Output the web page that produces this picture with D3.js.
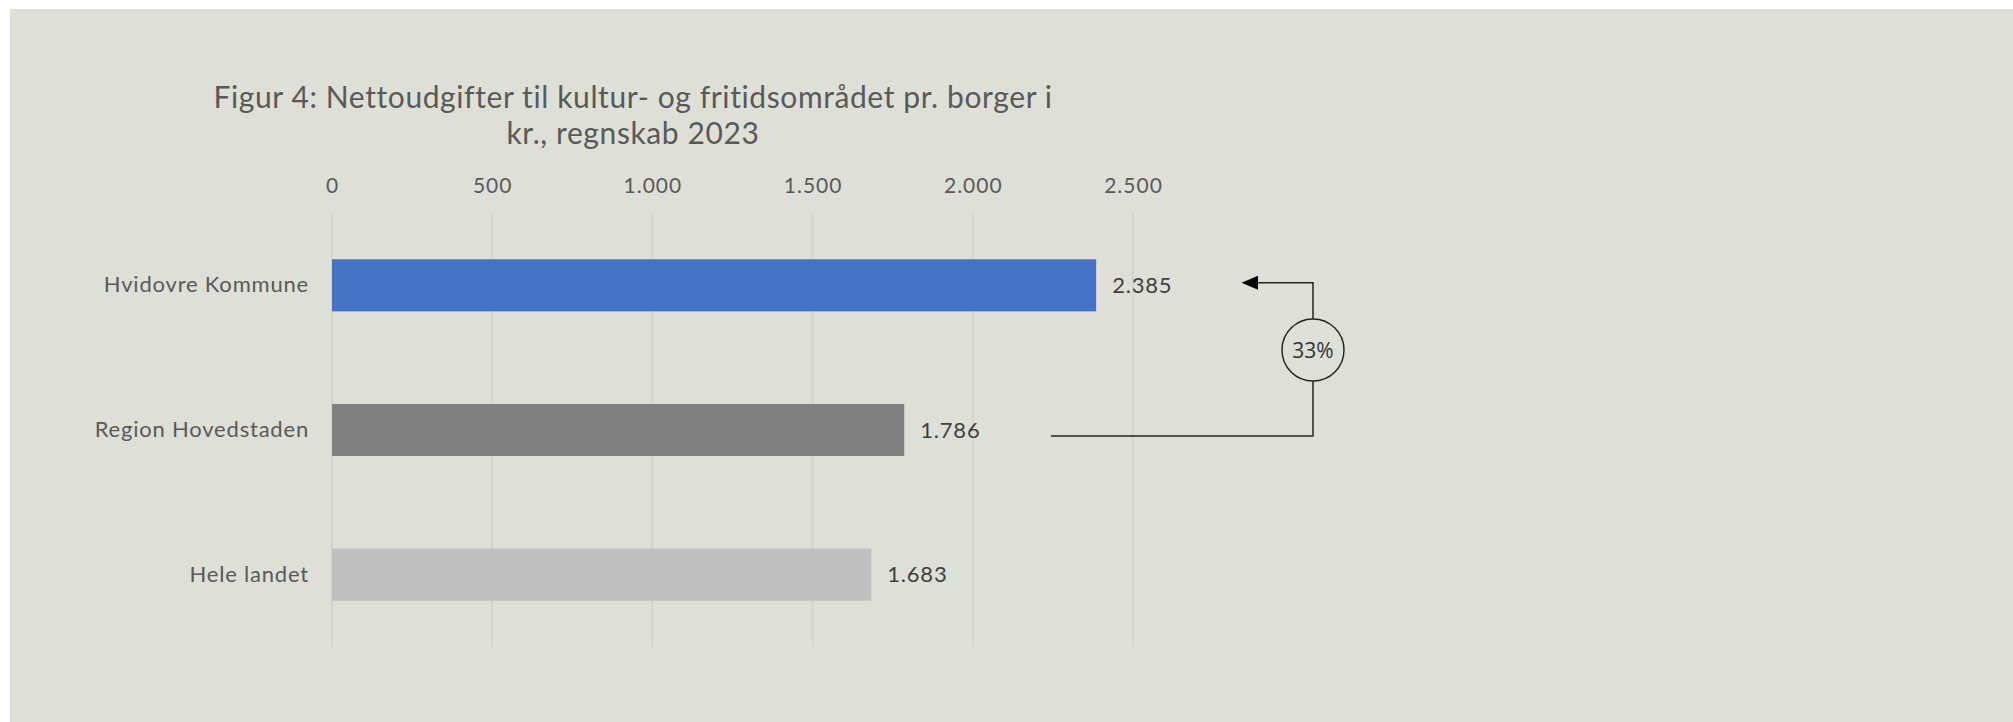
<!DOCTYPE html>
<html>
<head>
<meta charset="utf-8">
<script src="https://cdn.jsdelivr.net/npm/d3@7"></script>
<style>
  html, body { margin: 0; padding: 0; background: #ffffff; }
  svg { display: block; }
</style>
</head>
<body>
<svg id="chart" width="2013" height="722"></svg>
<script>
const categories = ["Hvidovre Kommune", "Region Hovedstaden", "Hele landet"];
const values = [2385, 1786, 1683];
const barColors = ["#4472C4", "#808080", "#BFBFBF"];
const tickValues = [0, 500, 1000, 1500, 2000, 2500];
const titleLines = ["Figur 4: Nettoudgifter til kultur- og fritidsområdet pr. borger i", "kr., regnskab 2023"];
const annotationLabel = "33%";

const fmt = v => d3.format(",")(v).replace(/,/g, ".");

const svg = d3.select("#chart");
const W = 2013, H = 722;

svg.append("rect")
  .attr("x", 10).attr("y", 9).attr("width", W - 10).attr("height", H - 9)
  .attr("fill", "#DEE0D7");

const plot = { left: 332, right: 1133, top: 213, bottom: 647 };

const x = d3.scaleLinear().domain([0, 2500]).range([plot.left, plot.right]);
const y = d3.scaleBand().domain(categories).range([plot.top, plot.bottom]).paddingInner(0.64).paddingOuter(0.32);

// gridlines
svg.append("g").selectAll("line").data(tickValues).join("line")
  .attr("x1", d => x(d)).attr("x2", d => x(d))
  .attr("y1", plot.top).attr("y2", plot.bottom)
  .attr("stroke", "#CFD1CB").attr("stroke-width", 1.5);

// top axis labels
const axis = d3.axisTop(x).tickValues(tickValues).tickFormat(fmt).tickSize(0).tickPadding(0);
const ag = svg.append("g").attr("transform", `translate(0,193)`).call(axis);
ag.select(".domain").remove();
ag.selectAll("text")
  .attr("font-family", "Lato, 'Open Sans', sans-serif")
  .attr("font-size", 21).attr("letter-spacing", 1).attr("fill", "#595959");

// category axis
const yAxis = d3.axisLeft(y).tickSize(0).tickPadding(23);
const yg = svg.append("g").attr("transform", `translate(${plot.left},0)`).call(yAxis);
yg.select(".domain").remove();
yg.selectAll("text")
  .attr("font-family", "Lato, 'Open Sans', sans-serif")
  .attr("font-size", 22).attr("letter-spacing", 0.8).attr("fill", "#595959");

// bars
svg.append("g").selectAll("rect").data(values).join("rect")
  .attr("x", x(0))
  .attr("y", (d, i) => y(categories[i]))
  .attr("width", d => x(d) - x(0))
  .attr("height", y.bandwidth())
  .attr("fill", (d, i) => barColors[i]);

// value labels
svg.append("g").selectAll("text").data(values).join("text")
  .attr("x", d => x(d) + 16)
  .attr("y", (d, i) => y(categories[i]) + y.bandwidth() / 2)
  .attr("dy", "0.35em")
  .attr("font-family", "Lato, 'Open Sans', sans-serif")
  .attr("font-size", 22).attr("letter-spacing", 0.8).attr("fill", "#404040")
  .text(d => fmt(d));

// title
const title = svg.append("text")
  .attr("font-family", "Lato, 'Open Sans', sans-serif")
  .attr("font-size", 30).attr("letter-spacing", 0.6).attr("fill", "#595959")
  .attr("text-anchor", "middle");
titleLines.forEach((t, i) => {
  title.append("tspan").attr("x", 633).attr("y", 108 + i * 36).text(t);
});

// annotation: bracket from Region to Hvidovre with circle label
const yTop = y(categories[0]) + y.bandwidth() / 2 - 2.5;
const yBot = y(categories[1]) + y.bandwidth() / 2 + 6;
const bx = 1313;
const cR = 31;
const cY = 350;
const ann = svg.append("g").attr("stroke", "#262626").attr("stroke-width", 1.5).attr("fill", "none");
ann.append("path").attr("d", `M1051,${yBot} H${bx} V${cY + cR}`);
ann.append("path").attr("d", `M${bx},${cY - cR} V${yTop} H1256`);
ann.append("circle").attr("cx", bx).attr("cy", cY).attr("r", cR);
svg.append("path")
  .attr("d", `M1241.5,${yTop} L1258,${yTop - 7} L1258,${yTop + 7} Z`)
  .attr("fill", "#000000");
svg.append("text")
  .attr("x", bx).attr("y", cY).attr("dy", "0.36em")
  .attr("text-anchor", "middle")
  .attr("font-family", "'Open Sans', sans-serif")
  .attr("font-size", 21).attr("fill", "#333333")
  .text(annotationLabel);
</script>
</body>
</html>
